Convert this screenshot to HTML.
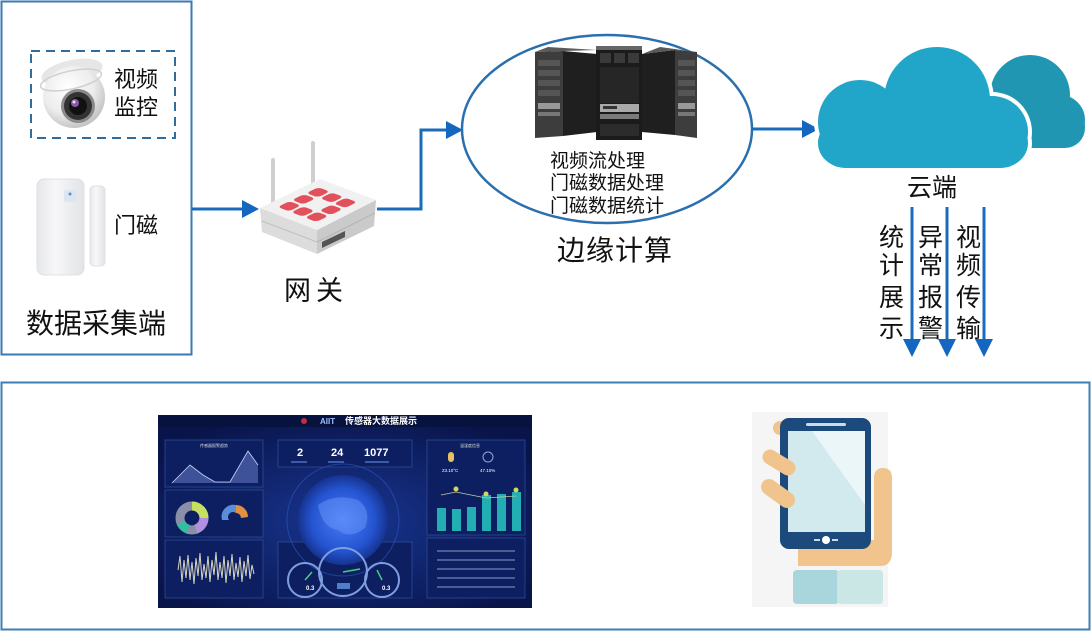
<!DOCTYPE html>
<html><head><meta charset="utf-8"><style>
html,body{margin:0;padding:0;background:#fff;}
svg{display:block;}
text{font-family:"Liberation Sans","Noto Sans CJK SC",sans-serif;}
</style></head><body>
<svg width="1092" height="632" viewBox="0 0 1092 632" xmlns="http://www.w3.org/2000/svg">
<defs>
 <radialGradient id="dome" cx="0.4" cy="0.35" r="0.7">
  <stop offset="0" stop-color="#ffffff"/><stop offset="0.6" stop-color="#ececec"/><stop offset="1" stop-color="#bdbdbd"/>
 </radialGradient>
 <radialGradient id="globe" cx="0.5" cy="0.5" r="0.5">
  <stop offset="0" stop-color="#4a7cf5"/><stop offset="0.7" stop-color="#2454d0"/><stop offset="1" stop-color="#16338f"/>
 </radialGradient>
 <radialGradient id="dashbg" cx="0.5" cy="0.55" r="0.6">
  <stop offset="0" stop-color="#183691"/><stop offset="1" stop-color="#09144a"/>
 </radialGradient>
 <linearGradient id="sensor" x1="0" y1="0" x2="1" y2="0">
  <stop offset="0" stop-color="#e6e7ea"/><stop offset="0.4" stop-color="#f7f7f9"/><stop offset="1" stop-color="#e2e3e6"/>
 </linearGradient>
</defs>
<rect width="1092" height="632" fill="#fff"/>

<!-- ===== Data collection box ===== -->
<rect x="1.5" y="1.5" width="190" height="353" fill="none" stroke="#3a7ab4" stroke-width="2"/>
<rect x="31" y="51" width="144" height="87" fill="none" stroke="#2f6d9e" stroke-width="2" stroke-dasharray="9,6"/>

<!-- camera -->
<g>
 <ellipse cx="72" cy="72" rx="31" ry="12" fill="#e6e6e6" transform="rotate(-12 72 72)"/>
 <circle cx="74" cy="97" r="31" fill="url(#dome)"/>
 <ellipse cx="71" cy="80" rx="31" ry="9" fill="none" stroke="#d0d0d0" stroke-width="1.5" transform="rotate(-12 71 80)"/>
 <circle cx="78" cy="106" r="17" fill="#8a8a8a"/>
 <circle cx="78" cy="106" r="14" fill="#333"/>
 <circle cx="78" cy="106" r="9" fill="#111"/>
 <circle cx="75" cy="103" r="4" fill="#8a5aa8"/>
 <circle cx="74" cy="102" r="1.5" fill="#e8d8f0"/>
</g>
<text x="114" y="87" font-size="22" fill="#111">视频</text>
<text x="114" y="115" font-size="22" fill="#111">监控</text>

<!-- door sensor -->
<rect x="37" y="179" width="47" height="96" rx="7" fill="url(#sensor)" stroke="#e0e0e4" stroke-width="1"/>
<rect x="64" y="190" width="13" height="12" rx="2" fill="#dde5ef"/>
<circle cx="70" cy="194" r="1.5" fill="#5b8fd0"/>
<rect x="90" y="186" width="15" height="80" rx="4" fill="url(#sensor)" stroke="#e0e0e4" stroke-width="1"/>
<text x="114" y="233" font-size="22" fill="#111">门磁</text>

<text x="26" y="333" font-size="28" fill="#111">数据采集端</text>

<!-- arrow box -> router -->
<line x1="192" y1="209" x2="244" y2="209" stroke="#1b6cb8" stroke-width="3"/>
<polygon points="242,200 259,209 242,218" fill="#1466c0"/>

<!-- ===== Router ===== -->
<g>
 <line x1="273" y1="160" x2="273" y2="212" stroke="#cfcfcf" stroke-width="4" stroke-linecap="round"/>
 <line x1="313" y1="143" x2="313" y2="190" stroke="#cfcfcf" stroke-width="4" stroke-linecap="round"/>
 <polygon points="260,208 317,230 317,254 262,232" fill="#dcdcdc"/>
 <polygon points="317,230 376,200 374,226 317,254" fill="#cacaca"/>
 <polygon points="260,208 320,179 376,200 317,230" fill="#f1f1f1"/>
 <line x1="262" y1="221" x2="317" y2="242" stroke="#c0c0c0" stroke-width="1"/>
 <line x1="317" y1="242" x2="375" y2="213" stroke="#b5b5b5" stroke-width="1"/>
 <polygon points="322,242 345,231 345,237 322,248" fill="#555"/>
 <g transform="matrix(60,-29,57,22,260,208)" fill="#e2505c">
  <rect x="0.15" y="0.15" width="0.2" height="0.2" rx="0.06"/>
  <rect x="0.39" y="0.15" width="0.2" height="0.2" rx="0.06"/>
  <rect x="0.63" y="0.15" width="0.2" height="0.2" rx="0.06"/>
  <rect x="0.15" y="0.39" width="0.2" height="0.2" rx="0.06"/>
  <rect x="0.63" y="0.39" width="0.2" height="0.2" rx="0.06"/>
  <rect x="0.15" y="0.63" width="0.2" height="0.2" rx="0.06"/>
  <rect x="0.39" y="0.63" width="0.2" height="0.2" rx="0.06"/>
  <rect x="0.63" y="0.63" width="0.2" height="0.2" rx="0.06"/>
 </g>
</g>
<text x="284" y="300" font-size="27" fill="#111" letter-spacing="5">网关</text>

<!-- router -> edge -->
<polyline points="377,209 421,209 421,130 448,130" fill="none" stroke="#1b6cb8" stroke-width="3"/>
<polygon points="446,121 463,130 446,139" fill="#1466c0"/>

<!-- ===== Edge computing ===== -->
<ellipse cx="607" cy="129" rx="145" ry="94" fill="none" stroke="#2a6fae" stroke-width="2.5"/>
<!-- servers -->
<g>
 <polygon points="535,52 548,47 597,50 563,51" fill="#5a5a5a"/>
 <polygon points="535,52 563,51 563,136 535,138" fill="#3d3d3d"/>
 <polygon points="563,51 597,54 597,132 563,136" fill="#1f1f1f"/>
 <g fill="#555">
  <rect x="538" y="60" width="22" height="6"/><rect x="538" y="70" width="22" height="6"/>
  <rect x="538" y="80" width="22" height="6"/><rect x="538" y="90" width="22" height="6"/>
 </g>
 <rect x="538" y="103" width="22" height="6" fill="#999"/>
 <rect x="538" y="112" width="22" height="4" fill="#777"/>

 <rect x="596" y="46" width="46" height="94" fill="#1b1b1b"/>
 <rect x="596" y="46" width="46" height="4" fill="#666"/>
 <g fill="#3a3a3a">
  <rect x="600" y="53" width="11" height="10"/><rect x="614" y="53" width="11" height="10"/><rect x="628" y="53" width="11" height="10"/>
 </g>
 <rect x="600" y="67" width="39" height="36" fill="#262626"/>
 <rect x="600" y="104" width="39" height="8" fill="#a8a8a8"/>
 <rect x="603" y="106" width="14" height="3" fill="#333"/>
 <rect x="600" y="114" width="39" height="5" fill="#7a7a7a"/>
 <rect x="600" y="124" width="39" height="12" fill="#2c2c2c"/>

 <polygon points="642,54 675,50 675,135 642,132" fill="#1f1f1f"/>
 <polygon points="675,50 697,52 697,138 675,135" fill="#3d3d3d"/>
 <polygon points="642,54 660,47 697,52 675,50" fill="#5a5a5a"/>
 <g fill="#555">
  <rect x="678" y="60" width="17" height="6"/><rect x="678" y="70" width="17" height="6"/>
  <rect x="678" y="80" width="17" height="6"/><rect x="678" y="90" width="17" height="6"/>
 </g>
 <rect x="678" y="103" width="17" height="6" fill="#999"/>
 <rect x="678" y="112" width="17" height="4" fill="#777"/>
</g>
<text x="550" y="167" font-size="19" fill="#111">视频流处理</text>
<text x="550" y="189" font-size="19" fill="#111">门磁数据处理</text>
<text x="550" y="212" font-size="19" fill="#111">门磁数据统计</text>
<text x="557" y="260" font-size="28" fill="#111" letter-spacing="1">边缘计算</text>

<!-- edge -> cloud -->
<line x1="752" y1="129" x2="804" y2="129" stroke="#1b6cb8" stroke-width="3"/>
<polygon points="802,120 819,129 802,138" fill="#1466c0"/>

<!-- ===== Cloud ===== -->
<g fill="#2196b2">
 <circle cx="1030" cy="95" r="40"/>
 <circle cx="1060" cy="120" r="25"/>
 <rect x="992" y="106" width="93" height="42" rx="20"/>
</g>
<g fill="#fff" stroke="#fff" stroke-width="8">
 <circle cx="860" cy="122" r="42"/>
 <circle cx="937" cy="100" r="53"/>
 <circle cx="992" cy="132" r="36"/>
 <rect x="818" y="118" width="210" height="50" rx="28"/>
</g>
<g fill="#21a5c8">
 <circle cx="860" cy="122" r="42"/>
 <circle cx="937" cy="100" r="53"/>
 <circle cx="992" cy="132" r="36"/>
 <rect x="818" y="118" width="210" height="50" rx="28"/>
</g>
<text x="907" y="196" font-size="25" fill="#111">云端</text>

<!-- down arrows -->
<g stroke="#1b6cb8" stroke-width="3">
 <line x1="912" y1="207" x2="912" y2="342"/>
 <line x1="947" y1="207" x2="947" y2="342"/>
 <line x1="984" y1="207" x2="984" y2="342"/>
</g>
<g fill="#1466c0">
 <polygon points="903,339 921,339 912,357"/>
 <polygon points="938,339 956,339 947,357"/>
 <polygon points="975,339 993,339 984,357"/>
</g>
<g font-size="25" fill="#111">
 <text x="879" y="246">统</text><text x="879" y="274">计</text><text x="879" y="306">展</text><text x="879" y="337">示</text>
 <text x="918" y="246">异</text><text x="918" y="274">常</text><text x="918" y="306">报</text><text x="918" y="337">警</text>
 <text x="956" y="246">视</text><text x="956" y="274">频</text><text x="956" y="306">传</text><text x="956" y="337">输</text>
</g>

<!-- ===== Bottom box ===== -->
<rect x="1.5" y="382.5" width="1088" height="247" fill="none" stroke="#3e7db5" stroke-width="2"/>

<!-- dashboard -->
<g>
 <rect x="158" y="415" width="374" height="193" fill="url(#dashbg)"/>
 <rect x="158" y="415" width="374" height="12" fill="#08123e"/>
 <circle cx="304" cy="421" r="3" fill="#c0303a"/>
 <text x="320" y="424" font-size="8" fill="#9fc0ff" font-weight="bold">AIIT</text>
 <text x="345" y="424" font-size="9" fill="#fff" font-weight="bold">传感器大数据展示</text>
 <g fill="#0d1f60" stroke="#2b4c98" stroke-width="0.8">
  <rect x="165" y="440" width="98" height="47"/>
  <rect x="165" y="490" width="98" height="47"/>
  <rect x="165" y="540" width="98" height="58"/>
  <rect x="278" y="440" width="134" height="27"/>
  <rect x="278" y="542" width="134" height="56"/>
  <rect x="427" y="440" width="98" height="95"/>
  <rect x="427" y="538" width="98" height="60"/>
 </g>
 <text x="200" y="447" font-size="4" fill="#ddd">传感器报警趋势</text>
 <polygon points="172,483 190,465 203,475 215,482 230,482 248,451 258,465 258,483" fill="#5268b0" opacity="0.7"/>
 <polyline points="172,483 190,465 203,475 215,482 230,482 248,451 258,465" fill="none" stroke="#c9d4ff" stroke-width="0.8"/>
 <!-- donuts -->
 <circle cx="192" cy="518" r="12" fill="none" stroke="#8a8fa8" stroke-width="9"/>
 <path d="M192 506 A12 12 0 0 1 204 518" fill="none" stroke="#c8e060" stroke-width="9"/>
 <path d="M204 518 A12 12 0 0 1 196 529" fill="none" stroke="#b090e0" stroke-width="9"/>
 <path d="M188 529 A12 12 0 0 1 181 523" fill="none" stroke="#30c0a0" stroke-width="9"/>
 <path d="M222 520 A12 12 0 0 1 236 505 L236 513 A5 5 0 0 0 229 520 Z" fill="#5b8ed8"/>
 <path d="M236 505 A12 12 0 0 1 248 517 L241 518 A5 5 0 0 0 236 513Z" fill="#e09040"/>
 <!-- waveform -->
 <polyline points="178,570 180,556 182,582 184,560 186,578 188,555 190,580 192,562 194,584 196,558 198,576 200,553 202,580 204,564 206,578 208,556 210,582 212,560 214,575 216,552 218,580 220,562 222,578 224,556 226,583 228,560 230,576 232,554 234,580 236,563 238,577 240,557 242,582 244,561 246,576 248,555 250,579 252,565 254,574" fill="none" stroke="#d6d6c4" stroke-width="1"/>
 <!-- numbers -->
 <text x="297" y="456" font-size="11" fill="#fff" font-weight="bold">2</text>
 <text x="331" y="456" font-size="11" fill="#fff" font-weight="bold">24</text>
 <text x="364" y="456" font-size="11" fill="#fff" font-weight="bold">1077</text>
 <g fill="#3c5aa8"><rect x="291" y="461" width="16" height="2"/><rect x="328" y="461" width="16" height="2"/><rect x="365" y="461" width="24" height="2"/></g>
 <!-- globe -->
 <circle cx="343" cy="520" r="56" fill="none" stroke="#2a52b8" stroke-width="1" opacity="0.7"/>
 <circle cx="343" cy="520" r="45" fill="url(#globe)"/>
 <path d="M318 505 Q335 493 358 500 Q372 510 365 528 Q350 540 338 530 Q322 528 318 505Z" fill="#6f9cff" opacity="0.45"/>
 <!-- gauges -->
 <g fill="none" stroke="#7f9fe0" stroke-width="2">
  <circle cx="305" cy="580" r="17"/>
  <circle cx="343" cy="572" r="24"/>
  <circle cx="382" cy="580" r="17"/>
 </g>
 <g stroke="#40d080" stroke-width="1.5">
  <line x1="305" y1="580" x2="312" y2="572"/>
  <line x1="343" y1="572" x2="360" y2="569"/>
  <line x1="382" y1="580" x2="377" y2="570"/>
 </g>
 <rect x="337" y="583" width="13" height="6" fill="#4f7fc8"/>
 <text x="306" y="590" font-size="6" fill="#fff" font-weight="bold">0.3</text>
 <text x="382" y="590" font-size="6" fill="#fff" font-weight="bold">0.3</text>
 <!-- right top -->
 <text x="460" y="447" font-size="4" fill="#ddd">温湿度信息</text>
 <rect x="448" y="452" width="6" height="10" rx="3" fill="#e8c060"/>
 <circle cx="488" cy="457" r="5" fill="none" stroke="#8fa8d8" stroke-width="1"/>
 <text x="442" y="472" font-size="4.5" fill="#fff">23.10°C</text>
 <text x="480" y="472" font-size="4.5" fill="#fff">47.10%</text>
 <g fill="#22aeb2">
  <rect x="437" y="508" width="9" height="23"/>
  <rect x="452" y="509" width="9" height="22"/>
  <rect x="467" y="507" width="9" height="24"/>
  <rect x="482" y="495" width="9" height="36"/>
  <rect x="497" y="494" width="9" height="37"/>
  <rect x="512" y="492" width="9" height="39"/>
 </g>
 <polyline points="441,495 456,492 471,495 486,498 501,497 516,496" fill="none" stroke="#c8c8a0" stroke-width="0.8"/>
 <g fill="#d0d860"><circle cx="456" cy="489" r="2.5"/><circle cx="486" cy="494" r="2.5"/><circle cx="516" cy="490" r="2.5"/></g>
 <!-- right bottom list -->
 <g stroke="#8a9ac8" stroke-width="1.2" opacity="0.8">
  <line x1="437" y1="551" x2="515" y2="551"/>
  <line x1="437" y1="560" x2="515" y2="560"/>
  <line x1="437" y1="569" x2="515" y2="569"/>
  <line x1="437" y1="578" x2="515" y2="578"/>
  <line x1="437" y1="587" x2="515" y2="587"/>
 </g>
</g>

<!-- phone -->
<g>
 <rect x="752" y="412" width="136" height="195" fill="#f5f5f5"/>
 <circle cx="780" cy="428" r="7" fill="#f0c48c"/>
 <path d="M798 540 L798 566 L880 566 Q892 566 892 552 L892 478 Q892 468 883 468 Q874 468 874 478 L874 540 Z" fill="#f0c48c"/>
 <rect x="780" y="418" width="91" height="131" rx="9" fill="#1d4a7c"/>
 <rect x="788" y="431" width="77" height="101" fill="#eaf6f7"/>
 <polygon points="788,431 812,431 865,505 865,532 788,532" fill="#d2eaee"/>
 <rect x="806" y="423" width="40" height="3" rx="1.5" fill="#c8dde8"/>
 <circle cx="826" cy="540" r="4" fill="#fff"/>
 <line x1="814" y1="540" x2="820" y2="540" stroke="#c8dde8" stroke-width="2"/>
 <line x1="832" y1="540" x2="838" y2="540" stroke="#c8dde8" stroke-width="2"/>
 <line x1="770" y1="457" x2="788" y2="468" stroke="#f0c48c" stroke-width="15" stroke-linecap="round"/>
 <line x1="769" y1="487" x2="787" y2="500" stroke="#f0c48c" stroke-width="16" stroke-linecap="round"/>
 <rect x="793" y="570" width="46" height="34" rx="4" fill="#a9d5dc"/>
 <rect x="837" y="570" width="46" height="34" rx="4" fill="#cbe7e5"/>
</g>
</svg>
</body></html>
